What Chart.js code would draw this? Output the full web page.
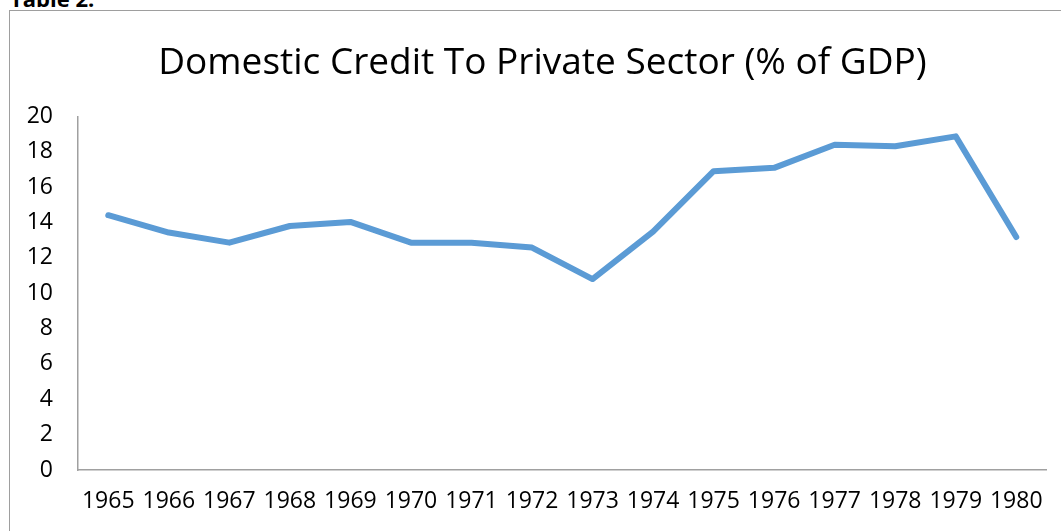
<!DOCTYPE html>
<html lang="en">
<head>
    <meta charset="UTF-8">
    <title>Domestic Credit To Private Sector</title>
    <script src="https://cdn.jsdelivr.net/npm/chart.js"></script>
    <style>
        body { margin: 0; background: #fff; overflow: hidden; }
        .caption { position: absolute; left: 10px; top: -17px; font: bold 22px "Open Sans", sans-serif; color: #000; }
        .frame { position: absolute; left: 9px; top: 10px; width: 1060px; height: 530px;
                 border-left: 1px solid #9e9e9e; border-top: 1px solid #9e9e9e; }
        .box { position: absolute; left: 10px; top: 11px; width: 1051px; height: 520px; }
    </style>
</head>
<body>
    <div class="caption">Table 2.</div>
    <div class="frame"></div>
    <div class="box"><canvas id="creditChart"></canvas></div>
    <script>
    // Domestic credit to private sector, % of GDP
    const years = ['1965', '1966', '1967', '1968', '1969', '1970', '1971', '1972',
                   '1973', '1974', '1975', '1976', '1977', '1978', '1979', '1980'];
    const creditPct = [14.41, 13.43, 12.86, 13.8, 14.03, 12.86, 12.86, 12.58,
                       10.8, 13.48, 16.9, 17.09, 18.4, 18.31, 18.87, 13.18];
    const yTicks = [0, 2, 4, 6, 8, 10, 12, 14, 16, 18, 20];

    const font = '"Open Sans", sans-serif';
    const axisGray = '#a0a0a0';

    // the title sits centred on the whole frame, not on the padded area
    const titleShift = {
        id: 'titleShift',
        afterLayout(chart) {
            const t = chart.titleBlock;
            if (t) { t.left += 14; t.right += 14; }
        }
    };

    const ctx = document.getElementById('creditChart').getContext('2d');
    window.creditChart = new Chart(ctx, {
        type: 'line',
        data: {
            labels: years,
            datasets: [{
                data: creditPct,
                borderColor: '#5b9bd5',
                borderWidth: 6,
                borderCapStyle: 'round',
                borderJoinStyle: 'round',
                pointRadius: 0,
                tension: 0
            }]
        },
        options: {
            responsive: true,
            maintainAspectRatio: false,
            animation: false,
            layout: { padding: { left: 0, right: 14, top: 0, bottom: 0 } },
            plugins: {
                legend: { display: false },
                tooltip: { enabled: false },
                title: {
                    display: true,
                    text: 'Domestic Credit To Private Sector (% of GDP)',
                    color: '#000',
                    font: { family: font, size: 37, weight: 'normal' },
                    padding: { top: 30, bottom: 31 }
                }
            },
            scales: {
                x: {
                    offset: true,
                    grid: { display: false, drawTicks: false },
                    border: { display: true, color: axisGray, width: 1.5 },
                    ticks: { color: '#000', font: { family: font, size: 23 }, padding: 18,
                             autoSkip: false, maxRotation: 0 },
                    afterFit: s => { s.height = 61; }
                },
                y: {
                    min: 0,
                    max: 20,
                    afterBuildTicks: s => { s.ticks = yTicks.map(v => ({ value: v })); },
                    grid: { display: false, drawTicks: false },
                    border: { display: true, color: axisGray, width: 1.5 },
                    ticks: { color: '#000', font: { family: font, size: 23 }, padding: 25 },
                    afterFit: s => { s.width = 68; }
                }
            }
        },
        plugins: [titleShift]
    });
    </script>
</body>
</html>
